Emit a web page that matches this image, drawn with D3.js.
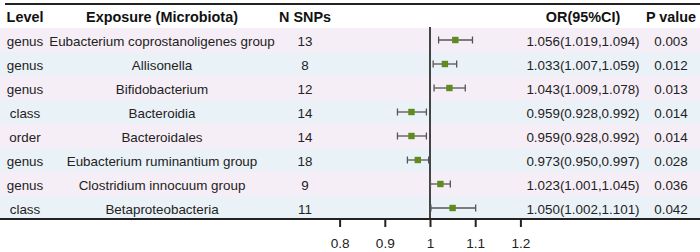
<!DOCTYPE html>
<html><head><meta charset="utf-8">
<script src="https://cdn.jsdelivr.net/npm/d3@7"></script>
<style>body{margin:0;background:#fff}svg{display:block;font-family:"Liberation Sans",Arial,sans-serif}</style>
</head><body>
<svg id="c" width="700" height="252"></svg>
<script>
const levels = ["genus","genus","genus","class","order","genus","genus","class"];
const exposures = ["Eubacterium coprostanoligenes group","Allisonella","Bifidobacterium","Bacteroidia","Bacteroidales","Eubacterium ruminantium group","Clostridium innocuum group","Betaproteobacteria"];
const nsnps = [13,8,12,14,14,18,9,11];
const or = [1.056,1.033,1.043,0.959,0.959,0.973,1.023,1.050];
const lower = [1.019,1.007,1.009,0.928,0.928,0.950,1.001,1.002];
const upper = [1.094,1.059,1.078,0.992,0.992,0.997,1.045,1.101];
const pvals = ["0.003","0.012","0.013","0.014","0.014","0.028","0.036","0.042"];
const headers = ["Level","Exposure (Microbiota)","N SNPs","OR(95%CI)","P value"];
const ticks = [0.8,0.9,1,1.1,1.2];

const svg = d3.select("#c");
const x = d3.scaleLinear().domain([0.8,1.2]).range([339.6,520.4]);
const y = d3.scaleBand().domain(d3.range(levels.length)).range([28,220]);
const colX = [25,162,305,583,671];
const fmt = d3.format(".3f");

// row backgrounds
svg.append("g").selectAll("rect").data(levels).join("rect")
  .attr("x",0).attr("width",700)
  .attr("y",(d,i)=>y(i)).attr("height",y.bandwidth())
  .attr("fill",(d,i)=> i%2===0 ? "#f6eef6" : "#eaf2f7");

// top line
svg.append("line").attr("x1",5).attr("x2",700).attr("y1",4).attr("y2",4)
  .attr("stroke","#222").attr("stroke-width",2);

// headers
svg.append("g").selectAll("text").data(headers).join("text")
  .attr("x",(d,i)=>colX[i]).attr("y",17).attr("dy","0.35em")
  .attr("text-anchor","middle").attr("font-weight","bold").attr("font-size",14.4)
  .attr("fill","#111").text(d=>d);

// table text
const rows = svg.append("g").selectAll("g").data(levels).join("g")
  .attr("transform",(d,i)=>`translate(0,${y(i)+y.bandwidth()/2+1})`);
const cols = [
  i=>levels[i], i=>exposures[i], i=>nsnps[i],
  i=>`${fmt(or[i])}(${fmt(lower[i])},${fmt(upper[i])})`, i=>pvals[i]
];
cols.forEach((f,c)=>{
  rows.append("text").attr("x",colX[c]).attr("dy","0.35em")
    .attr("text-anchor","middle").attr("font-size",13.4).attr("fill","#222")
    .text((d,i)=>f(i));
});

// reference line
svg.append("line").attr("x1",x(1)).attr("x2",x(1)).attr("y1",27).attr("y2",219)
  .attr("stroke","#444").attr("stroke-width",2);

// whiskers
const ci = svg.append("g").selectAll("g").data(or).join("g")
  .attr("transform",(d,i)=>`translate(0,${y(i)+y.bandwidth()/2})`);
ci.append("line").attr("x1",(d,i)=>x(lower[i])).attr("x2",(d,i)=>x(upper[i]))
  .attr("stroke","#555").attr("stroke-width",1.3);
ci.append("line").attr("x1",(d,i)=>x(lower[i])).attr("x2",(d,i)=>x(lower[i]))
  .attr("y1",-3.5).attr("y2",3.5).attr("stroke","#555").attr("stroke-width",1.3);
ci.append("line").attr("x1",(d,i)=>x(upper[i])).attr("x2",(d,i)=>x(upper[i]))
  .attr("y1",-3.5).attr("y2",3.5).attr("stroke","#555").attr("stroke-width",1.3);
ci.append("rect").attr("x",d=>x(d)-3.2).attr("y",-3.2).attr("width",6.4).attr("height",6.4)
  .attr("fill","#5e8a1e");

// bottom axis
svg.append("line").attr("x1",0).attr("x2",700).attr("y1",219).attr("y2",219)
  .attr("stroke","#222").attr("stroke-width",2);
const ax = svg.append("g").attr("transform","translate(0,219)")
  .call(d3.axisBottom(x).tickValues(ticks).tickFormat(d3.format("")).tickSize(8).tickPadding(11));
ax.select(".domain").remove();
ax.selectAll(".tick line").attr("stroke","#222").attr("stroke-width",2);
ax.selectAll(".tick text").attr("font-size",13.6).attr("fill","#222")
  .attr("font-family","'Liberation Sans',Arial,sans-serif");
</script>
</body></html>
